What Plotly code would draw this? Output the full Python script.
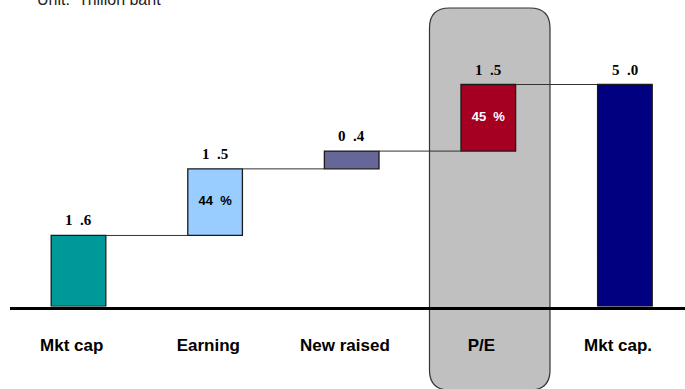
import plotly.graph_objects as go

# ---- data ----
categories = ["Mkt cap", "Earning", "New raised", "P/E", "Mkt cap."]
values = [1.6, 1.5, 0.4, 1.5, 5.0]
is_total = [True, False, False, False, True]
value_labels = ["1 .6", "1 .5", "0 .4", "1 .5", "5 .0"]
inside_labels = ["", "44\u00a0\u00a0%", "", "45\u00a0\u00a0%", ""]
inside_colors = ["black", "black", "black", "white", "black"]
bar_colors = ["#009999", "#99CCFF", "#666699", "#A50021", "#000080"]
unit_text = "Unit:  Trillion baht"

# ---- waterfall bases ----
bases = []
running = 0.0
for v, tot in zip(values, is_total):
    if tot:
        bases.append(0.0)
        running = v
    else:
        bases.append(running)
        running += v
tops = [b + v for b, v in zip(bases, values)]
xs = list(range(len(categories)))

W, H = 685, 389
BAR_W = 0.40

fig = go.Figure()

fig.add_trace(go.Bar(
    x=xs, y=values, base=bases, width=BAR_W,
    marker=dict(color=bar_colors, line=dict(color="#1a1a1a", width=1.3)),
    hoverinfo="skip", showlegend=False,
))

# connectors
for i in range(len(xs) - 1):
    fig.add_trace(go.Scatter(
        x=[xs[i] + BAR_W / 2, xs[i + 1] - BAR_W / 2],
        y=[tops[i], tops[i]],
        mode="lines", line=dict(color="#333333", width=1),
        hoverinfo="skip", showlegend=False,
    ))

# inside labels
mids = [b + v / 2 for b, v in zip(bases, values)]
fig.add_trace(go.Scatter(
    x=xs, y=mids, text=["<b>" + t + "</b>" if t else "" for t in inside_labels], mode="text",
    textposition="middle center",
    textfont=dict(family="Liberation Sans, Arial", size=13, color=inside_colors),
    hoverinfo="skip", showlegend=False,
))

annotations = []
for x, t, lab in zip(xs, tops, value_labels):
    annotations.append(dict(
        x=x, y=t, xref="x", yref="y", text="<b>" + lab.replace(" ", "\u00a0\u00a0") + "</b>",
        showarrow=False, yanchor="middle", yshift=15,
        font=dict(family="Liberation Serif, Times New Roman", size=15, color="black"),
    ))
annotations.append(dict(
    x=35 / W, y=1 + 1 / H, xref="paper", yref="paper", xanchor="left", yanchor="middle",
    text=unit_text, showarrow=False,
    font=dict(family="Liberation Sans, Arial", size=16, color="#222222"),
))

# rounded highlight box behind P/E (paper coords = pixels / size)
x0, x1 = 429.5 / W, 550 / W
yt, yb = 1 - 8 / H, 1 - 390 / H
rx, ry = 20 / W, 20 / H
path = (f"M {x0+rx},{yt} L {x1-rx},{yt} Q {x1},{yt} {x1},{yt-ry} "
        f"L {x1},{yb+ry} Q {x1},{yb} {x1-rx},{yb} L {x0+rx},{yb} "
        f"Q {x0},{yb} {x0},{yb+ry} L {x0},{yt-ry} Q {x0},{yt} {x0+rx},{yt} Z")
shapes = [dict(type="path", path=path, xref="paper", yref="paper", layer="below",
               fillcolor="#C0C0C0", line=dict(color="#333333", width=1.2))]

px_per_unit_x = 136.6
x_left = -(78.5 - 10) / px_per_unit_x
x_right = (685 - 78.5) / px_per_unit_x
base_px = 306.5
y_top = base_px / ((base_px - 84.5) / 5.0)

fig.update_layout(
    width=W, height=H,
    margin=dict(l=0, r=0, t=0, b=0),
    paper_bgcolor="white", plot_bgcolor="rgba(0,0,0,0)",
    xaxis=dict(domain=[10 / W, 1], range=[x_left, x_right],
               tickvals=[x - 0.05 for x in xs], ticktext=["<b>" + c + "</b>" for c in categories],
               showgrid=False, zeroline=False, showline=True, linecolor="black", linewidth=3,
               ticks="", ticklabelstandoff=21,
               tickfont=dict(family="Liberation Sans, Arial", size=17, color="black")),
    yaxis=dict(domain=[1 - base_px / H, 1], range=[0, y_top], visible=False, fixedrange=True),
    annotations=annotations, shapes=shapes,
    showlegend=False,
)

fig.write_html("out.html")
